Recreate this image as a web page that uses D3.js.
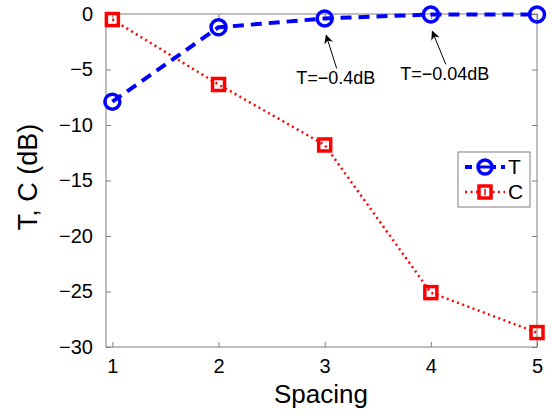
<!DOCTYPE html>
<html>
<head>
<meta charset="utf-8">
<script src="https://cdn.jsdelivr.net/npm/d3@7"></script>
<style>
  html, body { margin: 0; padding: 0; background: #fff; }
  svg { display: block; font-family: "Liberation Sans", Arial, sans-serif; }
</style>
</head>
<body>
<svg id="chart" width="552" height="415"></svg>
<script>
// Spacing values and measured transmission / crosstalk (dB)
const spacing = [1, 2, 3, 4, 5];
const tValues = [-7.9, -1.2, -0.4, -0.04, -0.05];
const cValues = [-0.5, -6.35, -11.8, -25.1, -28.7];
const xTicks = [1, 2, 3, 4, 5];
const yTicks = [0, -5, -10, -15, -20, -25, -30];
const notes = [
  { x: 3, y: -0.4, text: "T=\u22120.4dB", tailDx: 12, textDx: 11 },
  { x: 4, y: -0.04, text: "T=\u22120.04dB", tailDx: 15, textDx: 14 }
];

const svg = d3.select("#chart");
const m = { left: 106, right: 537, top: 14, bottom: 347 };

const x = d3.scaleLinear().domain([0.94, 5]).range([m.left, m.right]);
const y = d3.scaleLinear().domain([-30, 0]).range([m.bottom, m.top]);

const fmt = d => (d < 0 ? "\u2212" + Math.abs(d) : String(d));
const axisColor = "#7f7f7f";

// Frame
svg.append("rect")
  .attr("x", m.left).attr("y", m.top)
  .attr("width", m.right - m.left).attr("height", m.bottom - m.top)
  .attr("fill", "none").attr("stroke", axisColor).attr("stroke-width", 1);

// Axes with inward ticks
const tickLen = 5;
const gx = svg.append("g").attr("transform", `translate(0,${m.bottom})`)
  .call(d3.axisBottom(x).tickValues(xTicks).tickSizeInner(-tickLen).tickSizeOuter(0).tickPadding(12).tickFormat(fmt));
const gy = svg.append("g").attr("transform", `translate(${m.left},0)`)
  .call(d3.axisLeft(y).tickValues(yTicks).tickSizeInner(-tickLen).tickSizeOuter(0).tickPadding(13).tickFormat(fmt));
const gxt = svg.append("g").attr("transform", `translate(0,${m.top})`)
  .call(d3.axisTop(x).tickValues(xTicks).tickSizeInner(-tickLen).tickSizeOuter(0).tickFormat(""));
const gyr = svg.append("g").attr("transform", `translate(${m.right},0)`)
  .call(d3.axisRight(y).tickValues(yTicks).tickSizeInner(-tickLen).tickSizeOuter(0).tickFormat(""));

[gx, gy, gxt, gyr].forEach(g => {
  g.select(".domain").remove();
  g.selectAll(".tick line").attr("stroke", axisColor);
  g.selectAll(".tick text").attr("fill", "#000").attr("font-size", 20)
    .attr("font-family", "'Liberation Sans', Arial, sans-serif");
});

// Axis titles
svg.append("text").attr("x", 321).attr("y", 403)
  .attr("text-anchor", "middle").attr("font-size", 26).text("Spacing");
svg.append("text").attr("transform", "translate(37,177) rotate(-90)")
  .attr("text-anchor", "middle").attr("font-size", 27).text("T, C (dB)");

const plot = svg.append("g");
const line = d3.line().x(d => x(d[0])).y(d => y(d[1]));
const tData = spacing.map((s, i) => [s, tValues[i]]);
const cData = spacing.map((s, i) => [s, cValues[i]]);

const red = "#ff0000", blue = "#0000ff";

// Crosstalk C: red dotted line with square markers
plot.append("path").datum(cData).attr("d", line)
  .attr("fill", "none").attr("stroke", red).attr("stroke-width", 2.5).attr("stroke-dasharray", "2,3.5");
plot.selectAll(".sq").data(cData).enter().append("rect")
  .attr("x", d => x(d[0]) - 6).attr("y", d => y(d[1]) - 6)
  .attr("width", 12).attr("height", 12)
  .attr("fill", "none").attr("stroke", red).attr("stroke-width", 3.5);

// Transmission T: blue dashed line with circle markers
plot.append("path").datum(tData).attr("d", line)
  .attr("fill", "none").attr("stroke", blue).attr("stroke-width", 4).attr("stroke-dasharray", "11,7");
plot.selectAll(".ci").data(tData).enter().append("circle")
  .attr("cx", d => x(d[0])).attr("cy", d => y(d[1])).attr("r", 7.5)
  .attr("fill", "none").attr("stroke", blue).attr("stroke-width", 3.5);

// Annotations with arrows
const defs = svg.append("defs");
defs.append("marker").attr("id", "arrow").attr("viewBox", "0 0 10 10")
  .attr("refX", 9).attr("refY", 5).attr("markerWidth", 13).attr("markerHeight", 9)
  .attr("markerUnits", "userSpaceOnUse").attr("orient", "auto")
  .append("path").attr("d", "M0,0 L10,5 L0,10 L3,5 Z").attr("fill", "#000");

notes.forEach(n => {
  const px = x(n.x), py = y(n.y);
  svg.append("line")
    .attr("x1", px + n.tailDx).attr("y1", py + 50)
    .attr("x2", px + 1.5).attr("y2", py + 17)
    .attr("stroke", "#000").attr("stroke-width", 1).attr("marker-end", "url(#arrow)");
  svg.append("text").attr("x", px + n.textDx).attr("y", py + 66)
    .attr("text-anchor", "middle").attr("font-size", 18).text(n.text);
});

// Legend
const lg = svg.append("g").attr("transform", "translate(458,152)");
lg.append("rect").attr("width", 72).attr("height", 55)
  .attr("fill", "#fff").attr("stroke", axisColor).attr("stroke-width", 1);
const entries = [
  { label: "T", color: blue, dash: "7,5", w: 4, shape: "circle", yy: 15 },
  { label: "C", color: red, dash: "2,3.5", w: 2.5, shape: "square", yy: 40 }
];
entries.forEach(e => {
  lg.append("line").attr("x1", 7).attr("x2", 47).attr("y1", e.yy).attr("y2", e.yy)
    .attr("stroke", e.color).attr("stroke-width", e.w).attr("stroke-dasharray", e.dash);
  if (e.shape === "circle") {
    lg.append("circle").attr("cx", 27).attr("cy", e.yy).attr("r", 7)
      .attr("fill", "#fff").attr("stroke", e.color).attr("stroke-width", 3.5);
    lg.append("line").attr("x1", 20).attr("x2", 34).attr("y1", e.yy).attr("y2", e.yy)
      .attr("stroke", e.color).attr("stroke-width", 3);
  } else {
    lg.append("rect").attr("x", 21).attr("y", e.yy - 6).attr("width", 12).attr("height", 12)
      .attr("fill", "#fff").attr("stroke", e.color).attr("stroke-width", 3.5);
    lg.append("line").attr("x1", 27).attr("x2", 27).attr("y1", e.yy - 3).attr("y2", e.yy + 3)
      .attr("stroke", e.color).attr("stroke-width", 1.5);
  }
  lg.append("text").attr("x", 50).attr("y", e.yy + 7).attr("font-size", 21).text(e.label);
});
</script>
</body>
</html>
